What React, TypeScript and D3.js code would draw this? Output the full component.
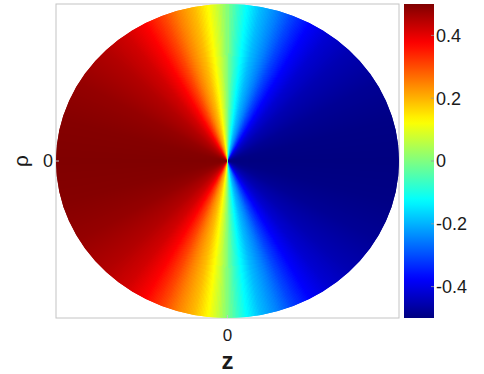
import * as d3 from "d3";

const angleStops = [0, 3, 6.5, 11, 17, 22, 28.5, 36, 45, 60, 75, 90];
const absValues = [0, 0.065, 0.125, 0.19, 0.25, 0.31, 0.375, 0.42, 0.45, 0.48, 0.495, 0.5];

const cbarTicks = [-0.4, -0.2, 0, 0.2, 0.4];
const jetValues = [-0.5, -0.375, -0.125, 0.125, 0.375, 0.5];
const jetColors = ["#000080", "#0000ff", "#00ffff", "#ffff00", "#ff0000", "#800000"];

const W = 484;
const H = 374;
const box = { x0: 56, x1: 399, y0: 4, y1: 318 };
const cbar = { x0: 404, x1: 434 };

export default function App() {
  const cx = (box.x0 + box.x1) / 2;
  const cy = (box.y0 + box.y1) / 2;
  const rx = (box.x1 - box.x0) / 2;
  const ry = (box.y1 - box.y0) / 2;

  const color = d3.scaleLinear<string>().domain(jetValues).range(jetColors).interpolate(d3.interpolateRgb);
  const profile = d3.scaleLinear().domain(angleStops).range(absValues).clamp(true);
  const cScale = d3.scaleLinear().domain([-0.5, 0.5]).range([box.y1, box.y0]);

  const step = 0.5;
  // wedges overlap their neighbour, drawn without antialiasing; the ellipse clip smooths the rim
  const arc = d3.arc<{ a0: number; a1: number }>()
    .innerRadius(0)
    .outerRadius(1.05)
    .startAngle(d => (d.a0 * Math.PI) / 180)
    .endAngle(d => ((d.a1 + step) * Math.PI) / 180);

  const wedges = d3.range(0, 360, step).map(a0 => {
    const mid = a0 + step / 2;
    let v;
    if (mid < 180) v = -profile(Math.min(mid, 180 - mid));
    else v = profile(Math.min(mid - 180, 360 - mid));
    return { a0, a1: a0 + step, v };
  });

  const gradStops = d3.range(0, 1.0001, 0.02);

  return (
    <svg width={W} height={H} style={{ position: "absolute", left: 0, top: 0, background: "#fff" }}
      fontFamily="'Liberation Sans', Arial, sans-serif">
      <defs>
        <linearGradient id="jet" x1="0" y1="1" x2="0" y2="0">
          {gradStops.map(t => (
            <stop key={t} offset={t} stopColor={color(-0.5 + t)} />
          ))}
        </linearGradient>
        <clipPath id="disc">
          <ellipse cx={cx} cy={cy} rx={rx} ry={ry} />
        </clipPath>
      </defs>

      <rect x={box.x0} y={box.y0} width={box.x1 - box.x0} height={box.y1 - box.y0}
        fill="#fff" stroke="#c4c4c4" strokeWidth={1} />

      <g clipPath="url(#disc)">
        <g transform={`translate(${cx},${cy}) scale(${rx},${ry})`} shapeRendering="crispEdges">
          {wedges.map((w, i) => (
            <path key={i} d={arc(w) || ""} fill={color(w.v)} />
          ))}
        </g>
      </g>

      {/* axis ticks */}
      <line x1={box.x0} x2={box.x0 + 3} y1={cy} y2={cy} stroke="#c4c4c4" />
      <line x1={cx} x2={cx} y1={box.y1} y2={box.y1 - 3} stroke="#c4c4c4" />

      <text x={53} y={cy} dy="0.35em" textAnchor="end" fontSize={18} fill="#1a1a1a">0</text>
      <text x={cx} y={341} textAnchor="middle" fontSize={17} fill="#1a1a1a">0</text>
      <text x={cx} y={369} textAnchor="middle" fontSize={24} fontWeight="bold" fill="#1a1a1a">z</text>
      <text transform={`translate(28,${cy}) rotate(-90)`} textAnchor="middle" fontSize={21} fill="#1a1a1a">ρ</text>

      {/* colorbar */}
      <rect x={cbar.x0} y={box.y0} width={cbar.x1 - cbar.x0} height={box.y1 - box.y0} fill="url(#jet)" />
      {cbarTicks.map(t => (
        <g key={t}>
          <line x1={cbar.x1 - 3} x2={cbar.x1} y1={cScale(t)} y2={cScale(t)} stroke="#999" strokeWidth={0.8} />
          <text x={436} y={cScale(t)} dy="0.35em" fontSize={18} fill="#1a1a1a">{t.toString()}</text>
        </g>
      ))}
    </svg>
  );
}
